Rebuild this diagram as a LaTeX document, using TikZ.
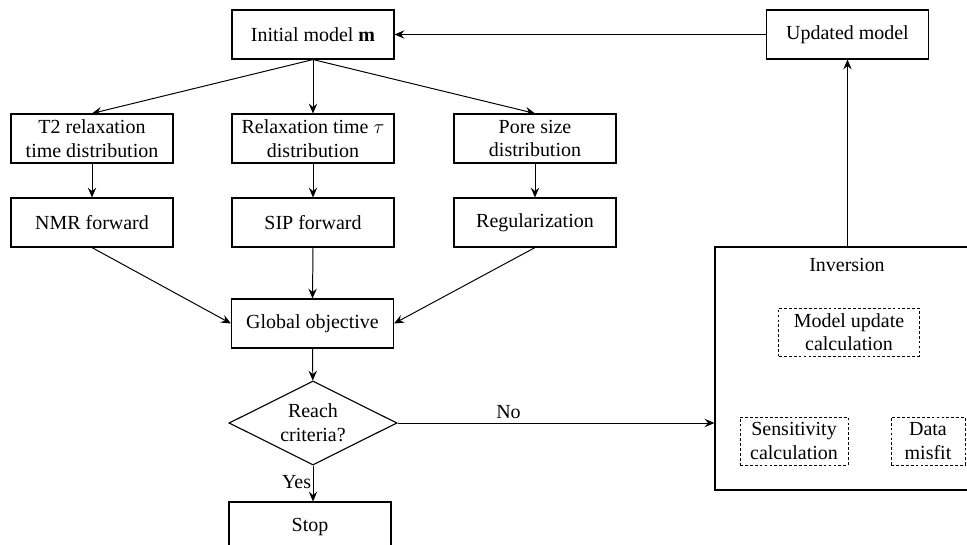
\documentclass[tikz,border=0pt]{standalone}
\usepackage{fontspec}
\setmainfont{Liberation Serif}
\usepackage{tikz}
\usetikzlibrary{arrows.meta, shapes.geometric}

\begin{document}
\begin{tikzpicture}[
  x=0.025cm, y=-0.025cm,
  every node/.style={font=\fontsize{14.2}{16.8}\selectfont},
  procbox/.style={draw, line width=0.8pt, minimum width=4.05cm,
                  minimum height=1.225cm, align=center, inner sep=2pt},
  subbox/.style={draw, dashed, dash pattern=on 2pt off 1.5pt,
                 line width=0.7pt, minimum height=1.2cm, align=center,
                 inner sep=2pt},
  decide/.style={draw, diamond, line width=0.8pt, aspect=2,
                 minimum width=4.2cm, minimum height=2.1cm,
                 align=center, inner sep=0pt},
  arr/.style={-{Stealth[length=7pt, width=6pt, inset=2.5pt]},
              line width=0.7pt},
]
\clip (0,0) rectangle (967,545);

% --- Top row ---
\node[procbox] (init) at (313, 34.5) {Initial model \textbf{m}};
\node[procbox] (upd)  at (847.5, 34.5) {Updated model};

% --- Distributions ---
\node[procbox] (t2)    at (92, 138.5)  {T2 relaxation\\time distribution};
\node[procbox] (relax) at (313, 138.5) {Relaxation time $\tau$\\distribution};
\node[procbox] (pore)  at (535, 138.5) {Pore size\\distribution};

% --- Forward / regularization ---
\node[procbox] (nmr) at (92, 222.5)  {NMR forward};
\node[procbox] (sip) at (313, 222.5) {SIP forward};
\node[procbox] (reg) at (535, 222.5) {Regularization};

% --- Objective and decision ---
\node[procbox] (glob) at (312.5, 323.5) {Global objective};
\node[decide]  (dec)  at (313, 423) {Reach\\criteria?};
\node[procbox, minimum height=1.25cm] (stop) at (310, 527) {Stop};

% --- Inversion block ---
\node[draw, line width=0.8pt, minimum width=7.25cm,
      minimum height=6.075cm] (inv) at (860, 368.5) {};
\node (invlabel) at (847, 265) {Inversion};
\node[subbox, minimum width=3.5cm]  (upcalc) at (849, 332)
  {Model update\\calculation};
\node[subbox, minimum width=2.7cm]  (sens)   at (794, 441)
  {Sensitivity\\calculation};
\node[subbox, minimum width=1.85cm] (misfit) at (928, 441)
  {Data\\misfit};

% --- Flow arrows ---
\draw[arr] (init.south) -- (t2.north);
\draw[arr] (init.south) -- (relax.north);
\draw[arr] (init.south) -- (pore.north);
\draw[arr] (t2) -- (nmr);
\draw[arr] (relax) -- (sip);
\draw[arr] (pore) -- (reg);
\draw[arr] (nmr.south) -- (glob.west);
\draw[arr] (sip.south) -- (glob.north);
\draw[arr] (reg.south) -- (glob.east);
\draw[arr] (glob) -- (dec);
\draw[arr] (dec.south) -- (dec.south |- stop.north)
  node[pos=0.45, left, inner sep=1pt] {Yes};
\draw[arr] (dec.east) -- (dec.east -| inv.west)
  node[pos=0.35, above, inner sep=3pt] {No};
\draw[arr] (upd.south |- inv.north) -- (upd.south);
\draw[arr] (upd.west) -- (init.east);

\end{tikzpicture}
\end{document}
